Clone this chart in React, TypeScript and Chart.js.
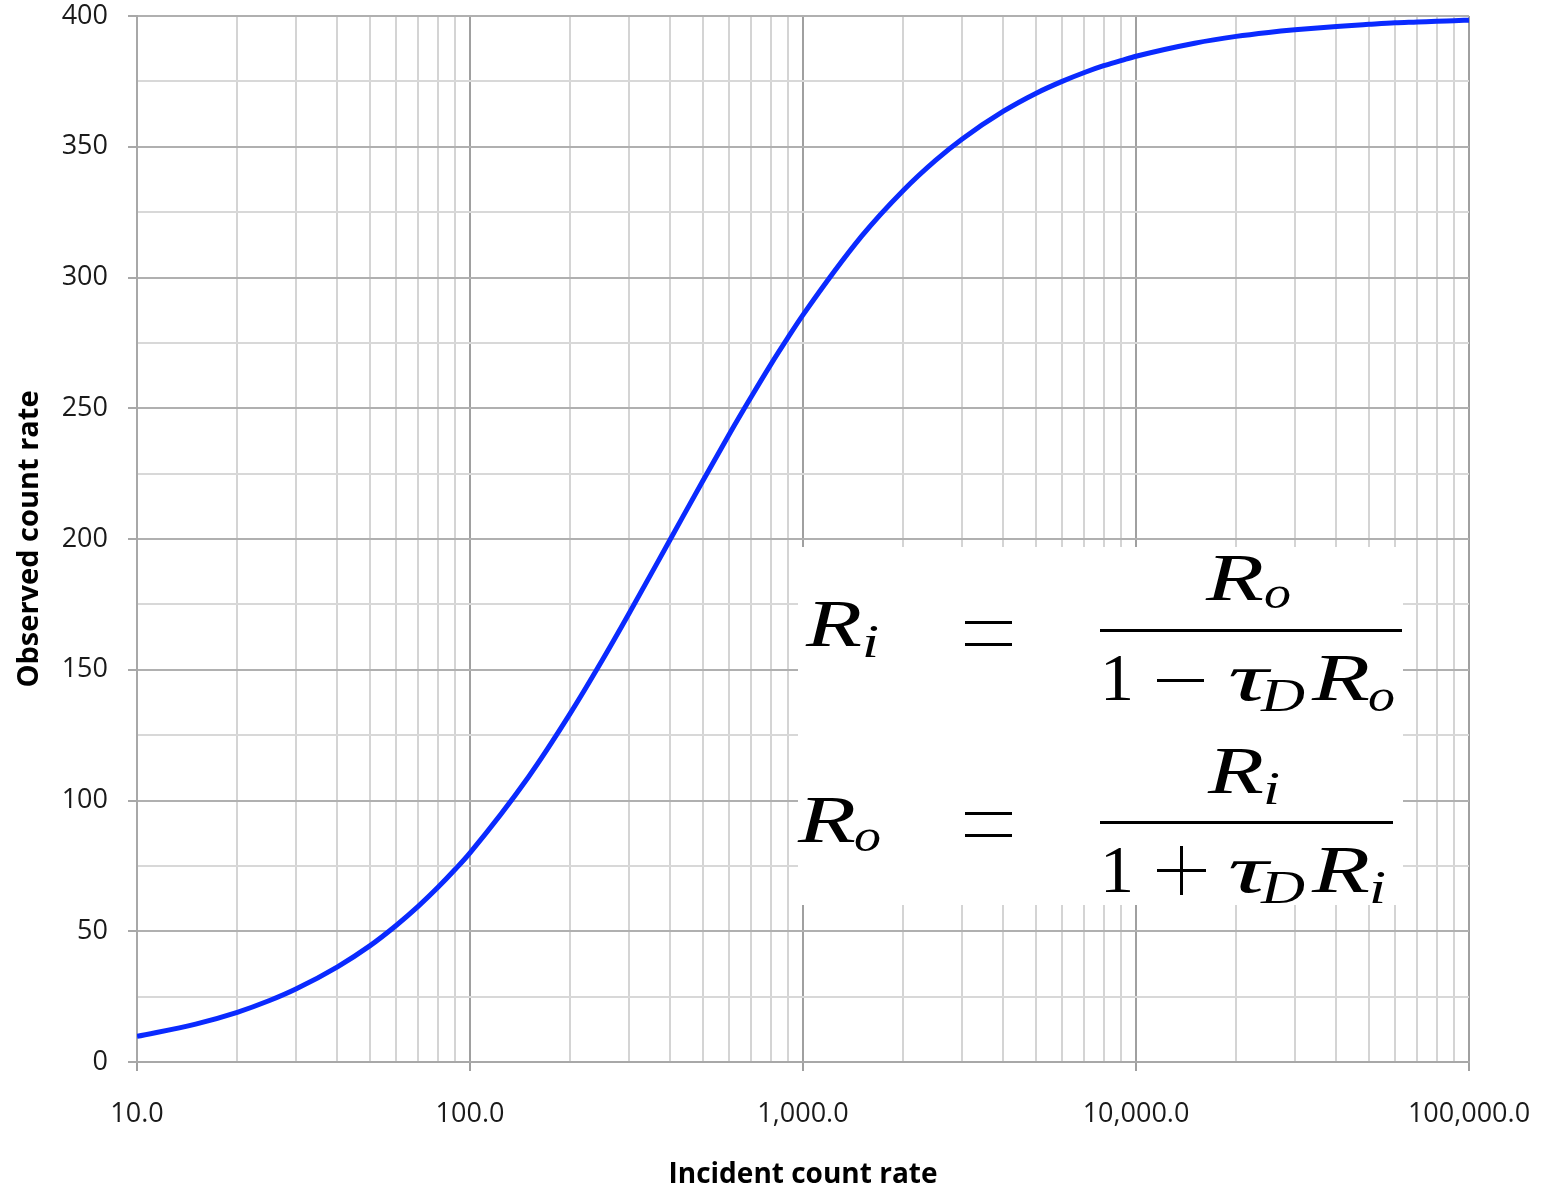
import React, { useEffect, useRef } from "react";
import { Chart, registerables } from "chart.js";

Chart.register(...registerables);

// Incident count rate (x) and observed count rate (y)
const incidentRates = [
  10, 15, 20, 25, 30, 40, 50, 60, 70, 80, 90,
  100, 150, 200, 250, 300, 400, 500, 600, 700, 800, 900,
  1000, 1500, 2000, 2500, 3000, 4000, 5000, 6000, 7000, 8000, 9000,
  10000, 15000, 20000, 25000, 30000, 40000, 50000, 60000, 70000, 80000, 90000,
  100000,
];
const observedRates = [
  9.8, 14.5, 19.0, 23.5, 27.9, 36.4, 44.4, 52.2, 59.6, 66.7, 73.5,
  80.0, 109.1, 133.3, 153.8, 171.4, 200.0, 222.2, 240.0, 254.5, 266.7, 276.9,
  285.7, 315.8, 333.3, 344.8, 352.9, 363.6, 370.4, 375.0, 378.4, 381.0, 382.9,
  384.6, 389.6, 392.2, 393.7, 394.7, 396.0, 396.8, 397.4, 397.7, 398.0, 398.2,
  398.4,
];

// Axis ticks
const xDecades = [10, 100, 1000, 10000, 100000];
const xTickLabels = ["10.0", "100.0", "1,000.0", "10,000.0", "100,000.0"];
const xMinorMultipliers = [1, 2, 3, 4, 5, 6, 7, 8, 9];
const yTickValues = [0, 25, 50, 75, 100, 125, 150, 175, 200, 225, 250, 275, 300, 325, 350, 375, 400];
const yLabelStep = 50;

const xTitle = "Incident count rate";
const yTitle = "Observed count rate";

const FONT = "'Open Sans', 'Noto Sans', sans-serif";
const MATH =
  "'Liberation Serif', 'DejaVu Serif', 'Noto Serif', 'Tinos', 'FreeSerif', 'Nimbus Roman', 'Times New Roman', serif";

const isDecade = (v: number) => {
  const l = Math.log10(v);
  return Math.abs(l - Math.round(l)) < 1e-9;
};

function Formula() {
  const big = 68;
  const sub = 46;
  const T = (p: { x: number; y: number; s: string; w: number; size?: number; italic?: boolean }) => (
    <text
      x={p.x}
      y={p.y}
      fontFamily={MATH}
      fontSize={p.size ?? big}
      fontStyle={p.italic === false ? "normal" : "italic"}
      textLength={p.w}
      lengthAdjust="spacingAndGlyphs"
      fill="#000"
    >
      {p.s}
    </text>
  );
  return (
    <svg
      width={1547}
      height={1190}
      style={{ position: "absolute", left: 0, top: 0, pointerEvents: "none" }}
    >
      <rect x={798} y={547} width={605} height={358} fill="#fff" />
      {/* R_i = R_o / (1 - tau_D R_o) */}
      <T x={806} y={646} s="R" w={56} />
      <T x={862} y={657} s="i" w={17} size={sub} />
      <rect x={965} y={621} width={47} height={3} fill="#000" />
      <rect x={965} y={643} width={47} height={3} fill="#000" />
      <rect x={1100} y={629} width={302} height={3} fill="#000" />
      <T x={1206} y={600} s="R" w={58} />
      <T x={1264} y={608} s="o" w={27} size={sub} />
      <T x={1100} y={700} s="1" w={34} italic={false} />
      <rect x={1157} y={679} width={47} height={3} fill="#000" />
      <T x={1228} y={700} s="τ" w={40} />
      <T x={1261} y={711} s="D" w={44} size={sub} />
      <T x={1312} y={700} s="R" w={58} />
      <T x={1368} y={711} s="o" w={27} size={sub} />
      {/* R_o = R_i / (1 + tau_D R_i) */}
      <T x={798} y={842} s="R" w={58} />
      <T x={854} y={851} s="o" w={27} size={sub} />
      <rect x={965} y={812} width={47} height={3} fill="#000" />
      <rect x={965} y={834} width={47} height={3} fill="#000" />
      <rect x={1100} y={821} width={293} height={3} fill="#000" />
      <T x={1208} y={793} s="R" w={56} />
      <T x={1263} y={804} s="i" w={17} size={sub} />
      <T x={1100} y={892} s="1" w={34} italic={false} />
      <rect x={1157} y={869} width={49} height={3} fill="#000" />
      <rect x={1180} y={846} width={3} height={49} fill="#000" />
      <T x={1228} y={892} s="τ" w={40} />
      <T x={1261} y={903} s="D" w={44} size={sub} />
      <T x={1312} y={892} s="R" w={58} />
      <T x={1369} y={903} s="i" w={17} size={sub} />
    </svg>
  );
}

export default function App() {
  const canvasRef = useRef<HTMLCanvasElement | null>(null);

  useEffect(() => {
    if (!canvasRef.current) return;
    const xTickValues: number[] = [];
    xDecades.slice(0, -1).forEach((d) => xMinorMultipliers.forEach((m) => xTickValues.push(d * m)));
    xTickValues.push(xDecades[xDecades.length - 1]);

    const chart = new Chart(canvasRef.current, {
      type: "line",
      data: {
        datasets: [
          {
            data: incidentRates.map((x, i) => ({ x, y: observedRates[i] })),
            borderColor: "#0a2aff",
            borderWidth: 5,
            pointRadius: 0,
            cubicInterpolationMode: "monotone",
            fill: false,
          },
        ],
      },
      options: {
        animation: false,
        responsive: false,
        layout: { padding: { left: 0, top: 16, right: 78, bottom: 0 } },
        plugins: { legend: { display: false }, tooltip: { enabled: false } },
        scales: {
          x: {
            type: "logarithmic",
            min: 10,
            max: 100000,
            afterBuildTicks: (scale: any) => {
              scale.ticks = xTickValues.map((v) => ({ value: v }));
            },
            afterFit: (scale: any) => {
              scale.height = 128;
              scale.paddingLeft = 0;
              scale.paddingRight = 0;
            },
            border: { display: true, color: "#a8a8a8", width: 2 },
            grid: {
              color: (c: any) => (c.tick && isDecade(c.tick.value) ? "#a0a0a0" : "#d4d4d4"),
              lineWidth: 2,
              tickLength: 9,
              tickColor: (c: any) => (c.tick && isDecade(c.tick.value) ? "#a0a0a0" : "rgba(0,0,0,0)"),
            },
            ticks: {
              autoSkip: false,
              maxRotation: 0,
              padding: 27,
              color: "#1a1a1a",
              font: { family: FONT, size: 27 },
              callback: (v: any) => {
                const n = Number(v);
                if (!isDecade(n)) return "";
                return xTickLabels[xDecades.indexOf(n)] ?? "";
              },
            },
            title: {
              display: true,
              text: xTitle,
              color: "#000000",
              font: { family: FONT, size: 28, weight: "bold" },
              padding: { top: 0, bottom: -2 },
            },
          },
          y: {
            type: "linear",
            min: 0,
            max: 400,
            afterBuildTicks: (scale: any) => {
              scale.ticks = yTickValues.map((v) => ({ value: v }));
            },
            afterFit: (scale: any) => {
              scale.width = 137;
              scale.paddingTop = 0;
              scale.paddingBottom = 0;
            },
            border: { display: true, color: "#a8a8a8", width: 2 },
            grid: {
              color: (c: any) => (c.tick && c.tick.value % yLabelStep === 0 ? "#b0b0b0" : "#d8d8d8"),
              lineWidth: 2,
              tickLength: 9,
              tickColor: (c: any) => (c.tick && c.tick.value % yLabelStep === 0 ? "#a8a8a8" : "rgba(0,0,0,0)"),
            },
            ticks: {
              autoSkip: false,
              padding: 20,
              color: "#1a1a1a",
              font: { family: FONT, size: 27 },
              callback: (v: any) => (Number(v) % yLabelStep === 0 ? String(v) : ""),
            },
            title: {
              display: true,
              text: yTitle,
              color: "#000000",
              font: { family: FONT, size: 29, weight: "bold" },
              padding: { top: 12, bottom: 0 },
            },
          },
        },
      },
    } as any);

    return () => chart.destroy();
  }, []);

  return (
    <div style={{ position: "absolute", left: 0, top: 0, width: 1547, height: 1190, background: "#fff" }}>
      <canvas ref={canvasRef} width={1547} height={1190} style={{ display: "block" }} />
      <Formula />
    </div>
  );
}
